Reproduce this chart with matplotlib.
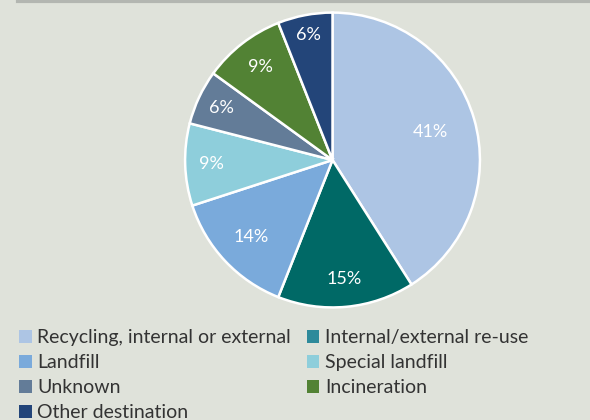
import matplotlib.pyplot as plt
from matplotlib.patches import Patch
import numpy as np

# data
categories = ['Recycling, internal or external', 'Internal/external re-use',
              'Landfill', 'Special landfill', 'Unknown', 'Incineration',
              'Other destination']
shares = [41, 15, 14, 9, 6, 9, 6]

pie_colors = ['#adc5e4', '#006966', '#7aaadb', '#8ecedb', '#637c98', '#528234', '#234579']
legend_colors = ['#adc5e4', '#2e8a9b', '#7aaadb', '#8ecedb', '#637c98', '#528234', '#234579']
label_dist = [0.69, 0.81, 0.76, 0.82, 0.83, 0.80, 0.86]

bg = '#dfe2da'
plt.rcParams['font.family'] = ['Lato', 'DejaVu Sans']

fig = plt.figure(figsize=(5.9, 4.2), dpi=100, facecolor=bg)

# grey rule at the top
fig.add_artist(plt.Line2D([0.03, 1.0], [0.997, 0.997], color='#b3b6b1', lw=3))

ax = fig.add_axes([0.3136, 0.268, 0.5, 0.702])
ax.set_facecolor(bg)
wedges, _ = ax.pie(shares, colors=pie_colors, startangle=90, counterclock=False,
                   wedgeprops=dict(edgecolor='white', linewidth=1.8))
ax.set_xlim(-1, 1)
ax.set_ylim(-1, 1)
ax.set_aspect('equal')

for w, v, d in zip(wedges, shares, label_dist):
    mid = np.deg2rad((w.theta1 + w.theta2) / 2)
    ax.text(d * np.cos(mid), d * np.sin(mid), f'{v}%', color='white',
            fontsize=13, ha='center', va='center')

# legend, row-wise order in two columns
order = [0, 2, 4, 6, 1, 3, 5]
handles = [Patch(facecolor=legend_colors[i], edgecolor='none') for i in order]
labels = [categories[i] for i in order]
fig.legend(handles, labels, loc='upper left', bbox_to_anchor=(0.032, 0.217),
           ncol=2, frameon=False, fontsize=14, labelcolor='#333333',
           handlelength=0.65, handleheight=0.65, handletextpad=0.3,
           columnspacing=0.8, labelspacing=0.42, borderaxespad=0, borderpad=0)

fig.savefig('out.png', dpi=100, facecolor=bg)
